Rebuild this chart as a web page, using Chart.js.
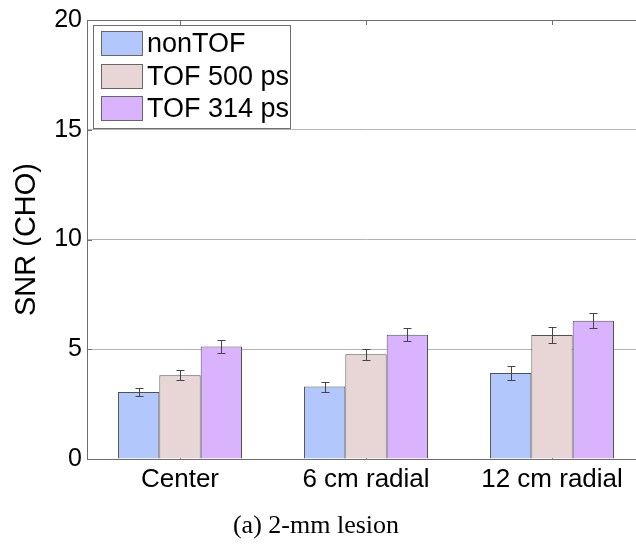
<!DOCTYPE html>
<html lang="en">
<head>
    <meta charset="UTF-8">
    <title>SNR (CHO) - 2-mm lesion</title>
    <script src="https://cdn.jsdelivr.net/npm/chart.js"></script>
    <style>
        html, body {
            margin: 0;
            padding: 0;
            background: #ffffff;
            overflow: hidden;
        }
        .chart-box {
            position: relative;
            width: 660px;
            height: 546px;
        }
    </style>
</head>
<body>
    <div class="chart-box">
        <canvas id="snrChart"></canvas>
    </div>

    <script>
        // values
        const categories = ['Center', '6 cm radial', '12 cm radial'];
        const seriesNames = ['nonTOF', 'TOF 500 ps', 'TOF 314 ps'];
        const nonTofSnr = [3.05, 3.30, 3.92];
        const nonTofErr = [0.18, 0.23, 0.30];
        const tof500Snr = [3.81, 4.77, 5.65];
        const tof500Err = [0.23, 0.26, 0.35];
        const tof314Snr = [5.13, 5.66, 6.30];
        const tof314Err = [0.28, 0.30, 0.35];
        const yTicks = [0, 5, 10, 15, 20];
        const caption = '(a) 2-mm lesion';

        const fillColors = ['#b2c8fd', '#e8d6d6', '#d9b3fd'];
        const axisColor = '#6e6e6e';
        const gridColor = '#b4b4b4';
        const sansFont = "'Liberation Sans', Arial, sans-serif";

        // error bars, drawn through the y scale
        const errorBars = {
            id: 'errorBars',
            afterDatasetsDraw(chart) {
                const ctx = chart.ctx;
                const yScale = chart.scales.y;
                ctx.save();
                ctx.strokeStyle = '#444444';
                ctx.lineWidth = 1;
                chart.data.datasets.forEach((ds, i) => {
                    const meta = chart.getDatasetMeta(i);
                    meta.data.forEach((bar, j) => {
                        const v = ds.data[j];
                        const e = ds.errors[j];
                        const top = Math.round(yScale.getPixelForValue(v + e)) + 0.5;
                        const bot = Math.round(yScale.getPixelForValue(v - e)) + 0.5;
                        const x = Math.round(bar.x) + 0.5;
                        ctx.beginPath();
                        ctx.moveTo(x, top); ctx.lineTo(x, bot);
                        ctx.moveTo(x - 4, top); ctx.lineTo(x + 4, top);
                        ctx.moveTo(x - 4, bot); ctx.lineTo(x + 4, bot);
                        ctx.stroke();
                    });
                });
                ctx.restore();
            }
        };

        // matlab style inward tick marks
        const innerTicks = {
            id: 'innerTicks',
            beforeDatasetsDraw(chart) {
                const ctx = chart.ctx;
                const area = chart.chartArea;
                const xScale = chart.scales.x;
                const yScale = chart.scales.y;
                ctx.save();
                ctx.strokeStyle = axisColor;
                ctx.lineWidth = 1;
                ctx.beginPath();
                xScale.ticks.forEach((t, i) => {
                    const x = Math.round(xScale.getPixelForTick(i)) + 0.5;
                    ctx.moveTo(x, area.top); ctx.lineTo(x, area.top + 5);
                    ctx.moveTo(x, area.bottom); ctx.lineTo(x, area.bottom - 5);
                });
                yScale.ticks.forEach((t, i) => {
                    const y = Math.round(yScale.getPixelForTick(i)) + 0.5;
                    ctx.moveTo(area.left, y); ctx.lineTo(area.left + 5, y);
                });
                ctx.stroke();
                ctx.restore();
            }
        };

        // boxed legend inside the axes, top left
        const boxLegend = {
            id: 'boxLegend',
            afterDraw(chart) {
                const ctx = chart.ctx;
                const area = chart.chartArea;
                const left = area.left + 6;
                const top = area.top + 5;
                const rowH = 32.5;
                ctx.save();
                ctx.font = '27px ' + sansFont;
                let maxW = 0;
                chart.data.datasets.forEach(ds => {
                    maxW = Math.max(maxW, ctx.measureText(ds.label).width);
                });
                const w = Math.round(55 + maxW);
                const h = Math.round(rowH * chart.data.datasets.length + 5);
                ctx.fillStyle = '#ffffff';
                ctx.fillRect(left, top, w, h);
                ctx.strokeStyle = axisColor;
                ctx.lineWidth = 1;
                ctx.strokeRect(left + 0.5, top + 0.5, w, h);
                chart.data.datasets.forEach((ds, i) => {
                    const sy = Math.round(top + 6 + i * rowH) + 0.5;
                    ctx.fillStyle = ds.backgroundColor;
                    ctx.fillRect(left + 8.5, sy, 41, 24);
                    ctx.strokeStyle = '#666666';
                    ctx.strokeRect(left + 8.5, sy, 41, 24);
                    ctx.fillStyle = '#000000';
                    ctx.textBaseline = 'middle';
                    ctx.textAlign = 'left';
                    ctx.fillText(ds.label, left + 54, sy + 13);
                });
                ctx.restore();
            }
        };

        // figure caption under the axes
        const figCaption = {
            id: 'figCaption',
            afterDraw(chart) {
                const ctx = chart.ctx;
                ctx.save();
                ctx.font = "26px 'Liberation Serif', 'Times New Roman', serif";
                ctx.fillStyle = '#000000';
                ctx.textAlign = 'center';
                ctx.textBaseline = 'alphabetic';
                ctx.fillText(caption, 316, 533);
                ctx.restore();
            }
        };

        const ctx = document.getElementById('snrChart').getContext('2d');
        const snrChart = new Chart(ctx, {
            type: 'bar',
            data: {
                labels: categories,
                datasets: [
                    { label: seriesNames[0], data: nonTofSnr, errors: nonTofErr, backgroundColor: fillColors[0] },
                    { label: seriesNames[1], data: tof500Snr, errors: tof500Err, backgroundColor: fillColors[1] },
                    { label: seriesNames[2], data: tof314Snr, errors: tof314Err, backgroundColor: fillColors[2] }
                ].map(ds => Object.assign(ds, {
                    borderColor: '#505050',
                    borderWidth: 1,
                    categoryPercentage: 0.667,
                    barPercentage: 1.0
                }))
            },
            options: {
                responsive: true,
                maintainAspectRatio: false,
                animation: false,
                layout: {
                    padding: { top: 20, right: 15, bottom: 47, left: 0 }
                },
                plugins: {
                    legend: { display: false },
                    tooltip: { enabled: false }
                },
                scales: {
                    x: {
                        grid: { display: false, drawTicks: false },
                        border: { display: true, color: axisColor, width: 1 },
                        ticks: {
                            color: '#000000',
                            font: { family: sansFont, size: 26 },
                            padding: 5,
                            maxRotation: 0,
                            autoSkip: false
                        },
                        afterFit(scale) { scale.height = 40; }
                    },
                    y: {
                        min: 0,
                        max: 20,
                        afterBuildTicks(scale) {
                            scale.ticks = yTicks.map(v => ({ value: v }));
                        },
                        grid: {
                            drawTicks: false,
                            color: c => (c.tick && (c.tick.value === 0 || c.tick.value === 20)) ? axisColor : gridColor,
                            lineWidth: 1
                        },
                        border: { display: true, color: axisColor, width: 1 },
                        ticks: {
                            color: '#000000',
                            font: { family: sansFont, size: 25 },
                            padding: 5
                        },
                        title: {
                            display: true,
                            text: 'SNR (CHO)',
                            color: '#000000',
                            font: { family: sansFont, size: 29 },
                            padding: { top: 10, bottom: 0 }
                        },
                        afterFit(scale) { scale.width = 87; }
                    }
                }
            },
            plugins: [innerTicks, errorBars, boxLegend, figCaption]
        });
    </script>
</body>
</html>
